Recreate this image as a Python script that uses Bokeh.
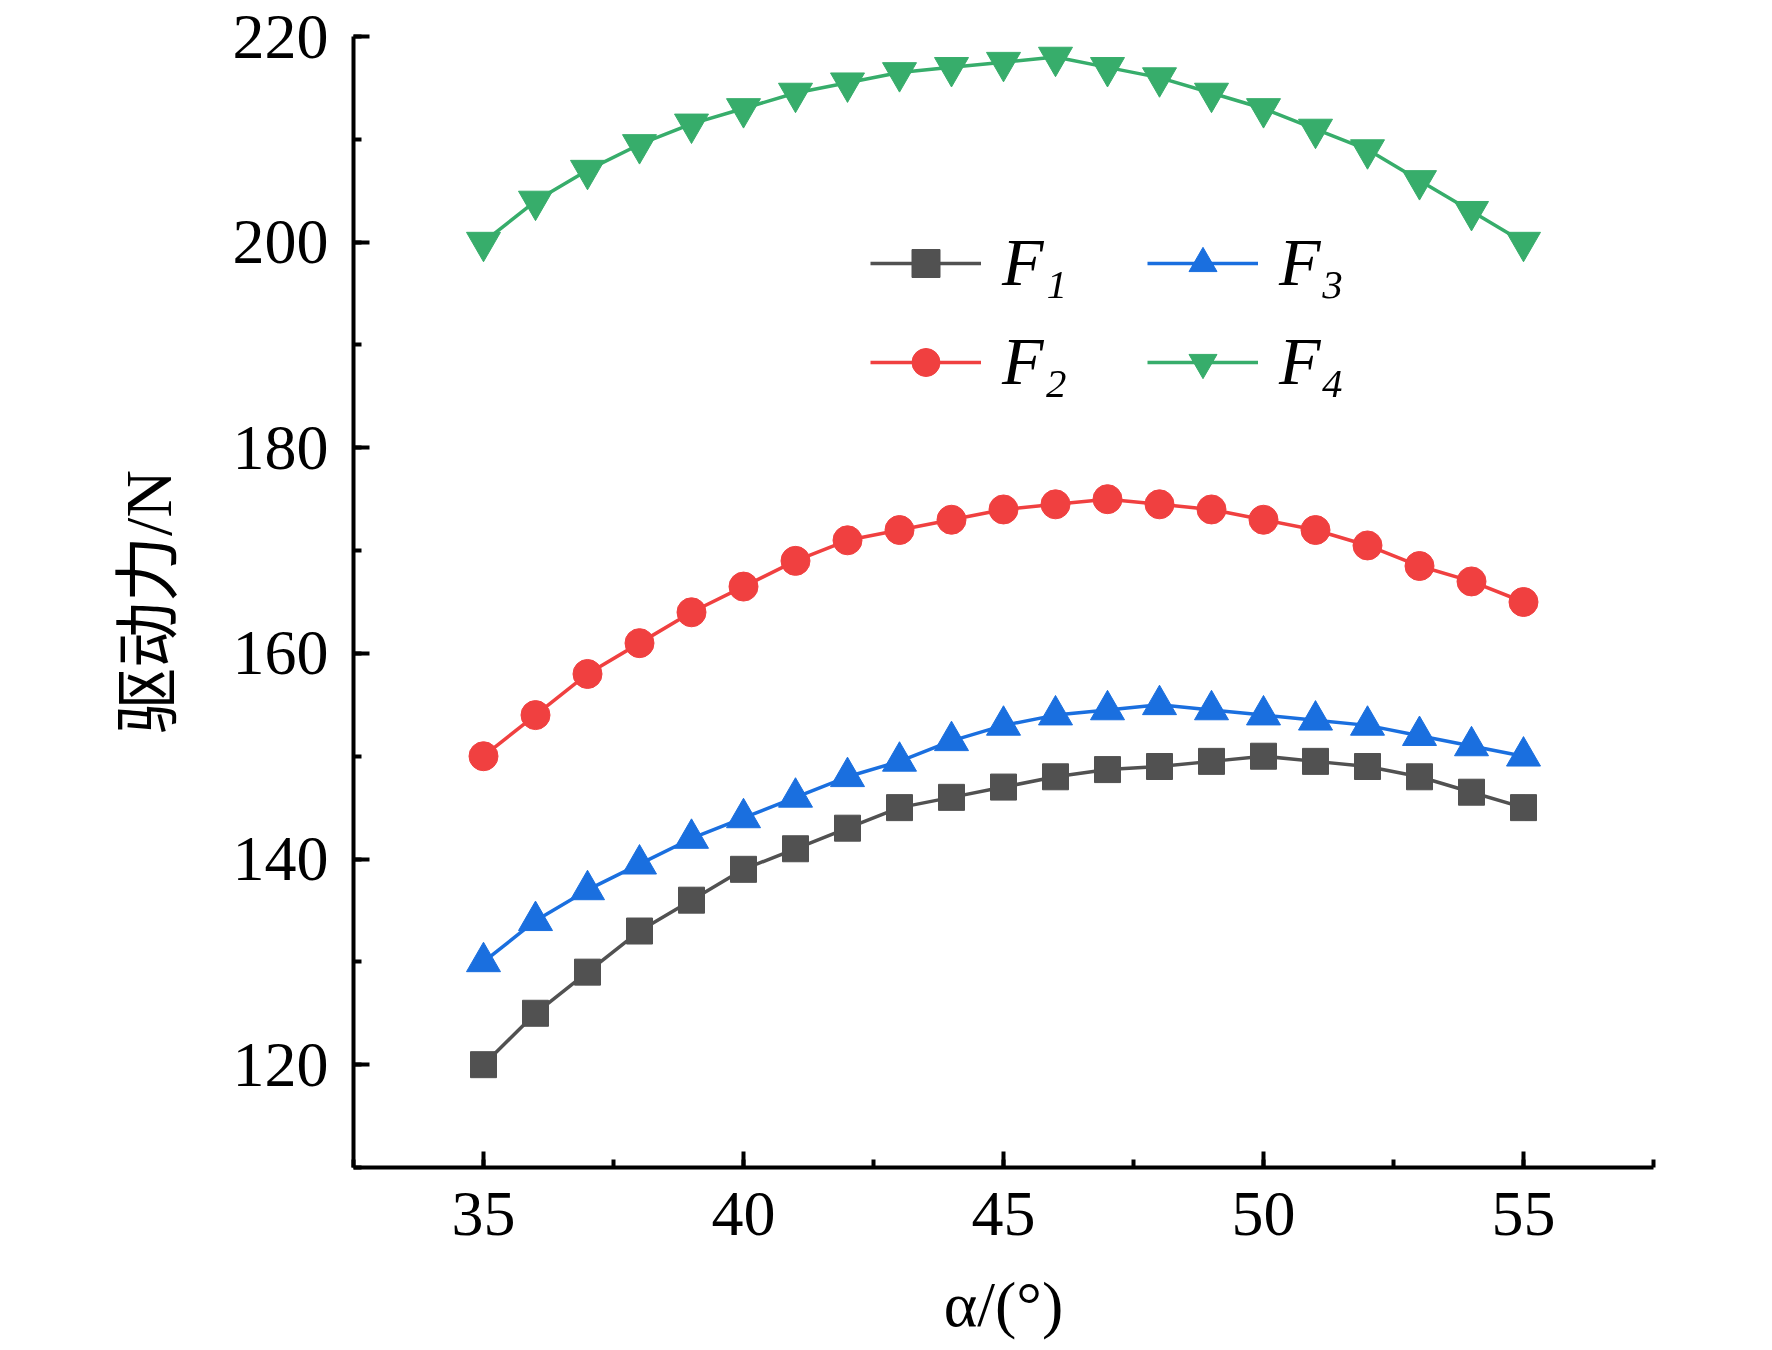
from bokeh.plotting import figure
from bokeh.models import Range1d, SingleIntervalTicker, Legend, LegendItem
from bokeh.embed import file_html
from bokeh.resources import INLINE

alpha = list(range(35, 56))
f1 = [120, 125, 129, 133, 136, 139, 141, 143, 145, 146, 147, 148, 148.7, 149, 149.5, 150, 149.5, 149, 148, 146.5, 145]
f2 = [150, 154, 158, 161, 164, 166.5, 169, 171, 172, 173, 174, 174.5, 175, 174.5, 174, 173, 172, 170.5, 168.5, 167, 165]
f3 = [130, 134, 137, 139.5, 142, 144, 146, 148, 149.5, 151.5, 153, 154, 154.5, 155, 154.5, 154, 153.5, 153, 152, 151, 150]
f4 = [200, 204, 207, 209.5, 211.5, 213, 214.5, 215.5, 216.5, 217, 217.5, 218, 217, 216, 214.5, 213, 211, 209, 206, 203, 200]
names = ["F\u2081", "F\u2082", "F\u2083", "F\u2084"]
colors = ["#515151", "#F04040", "#1A6FDF", "#37AD6B"]
markers = ["square", "circle", "triangle", "inverted_triangle"]
msizes = [26, 29, 34, 34]

serif = "'Liberation Serif', 'Times New Roman', serif"
cjk = "'Liberation Serif', 'Noto Sans CJK SC', serif"

p = figure(width=1764, height=1350, output_backend="svg", toolbar_location=None,
           x_range=Range1d(32.5, 57.5), y_range=Range1d(110, 220),
           min_border_left=353, min_border_right=111, min_border_top=36, min_border_bottom=183)
p.outline_line_color = None
p.xgrid.visible = False
p.ygrid.visible = False

p.xaxis.ticker = SingleIntervalTicker(interval=5, num_minor_ticks=2)
p.yaxis.ticker = SingleIntervalTicker(interval=20, num_minor_ticks=2)
for ax in (p.xaxis, p.yaxis):
    ax.axis_line_width = 4
    ax.axis_line_color = "black"
    ax.major_tick_in = 16
    ax.major_tick_out = 0
    ax.minor_tick_in = 8
    ax.minor_tick_out = 0
    ax.major_tick_line_width = 4
    ax.minor_tick_line_width = 4
    ax.major_label_text_font = serif
    ax.major_label_text_font_size = "64px"
    ax.major_label_text_color = "black"
    ax.axis_label_text_font_style = "normal"
    ax.axis_label_text_color = "black"

p.xaxis.axis_label = "α/(°)"
p.xaxis.axis_label_text_font = serif
p.xaxis.axis_label_text_font_size = "64px"
p.xaxis.major_label_standoff = 25
p.xaxis.axis_label_standoff = 31
p.yaxis.axis_label = "驱动力/N"
p.yaxis.axis_label_text_font = cjk
p.yaxis.axis_label_text_font_size = "66px"
p.yaxis.major_label_standoff = 25
p.yaxis.axis_label_standoff = 45

series = [f1, f2, f3, f4]
items = []
for i in range(4):
    ln = p.line(alpha, series[i], line_color=colors[i], line_width=3.5)
    sc = p.scatter(alpha, series[i], marker=markers[i], size=msizes[i],
                   fill_color=colors[i], line_color=colors[i])
    items.append(LegendItem(label=names[i], renderers=[ln, sc]))

legend = Legend(items=items, location=(517, 766), orientation="vertical", nrows=2,
                glyph_width=111, glyph_height=70, label_height=70, label_width=125,
                label_standoff=21, spacing=20, padding=0, margin=0,
                border_line_color=None, background_fill_alpha=0,
                label_text_font=serif, label_text_font_style="italic",
                label_text_font_size="68px", label_text_color="black")
p.add_layout(legend)

open("out.html", "w").write(file_html(p, INLINE))
